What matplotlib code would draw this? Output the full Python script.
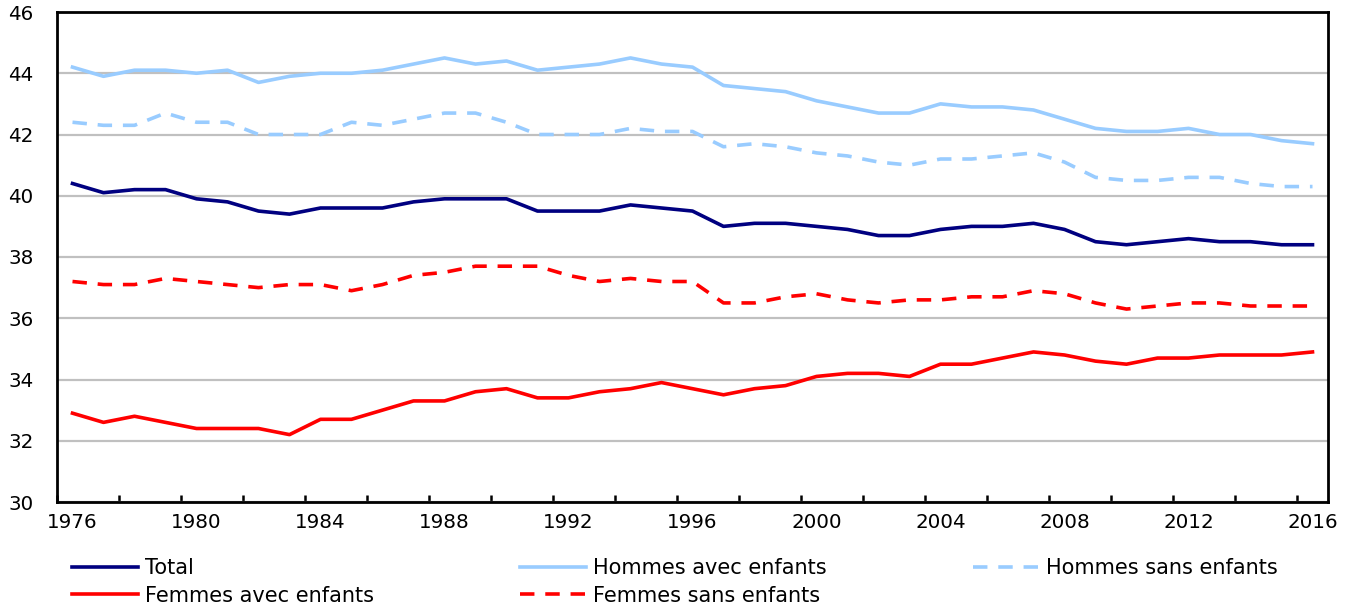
import numpy as np
import matplotlib
matplotlib.use("Agg")
import matplotlib.pyplot as plt
from matplotlib.ticker import FixedLocator, NullFormatter

years = list(range(1976, 2017))

total = [40.4, 40.1, 40.2, 40.2, 39.9, 39.8, 39.5, 39.4, 39.6, 39.6,
         39.6, 39.8, 39.9, 39.9, 39.9, 39.5, 39.5, 39.5, 39.7, 39.6,
         39.5, 39.0, 39.1, 39.1, 39.0, 38.9, 38.7, 38.7, 38.9, 39.0,
         39.0, 39.1, 38.9, 38.5, 38.4, 38.5, 38.6, 38.5, 38.5, 38.4,
         38.4]
hommes_avec = [44.2, 43.9, 44.1, 44.1, 44.0, 44.1, 43.7, 43.9, 44.0, 44.0,
               44.1, 44.3, 44.5, 44.3, 44.4, 44.1, 44.2, 44.3, 44.5, 44.3,
               44.2, 43.6, 43.5, 43.4, 43.1, 42.9, 42.7, 42.7, 43.0, 42.9,
               42.9, 42.8, 42.5, 42.2, 42.1, 42.1, 42.2, 42.0, 42.0, 41.8,
               41.7]
hommes_sans = [42.4, 42.3, 42.3, 42.7, 42.4, 42.4, 42.0, 42.0, 42.0, 42.4,
               42.3, 42.5, 42.7, 42.7, 42.4, 42.0, 42.0, 42.0, 42.2, 42.1,
               42.1, 41.6, 41.7, 41.6, 41.4, 41.3, 41.1, 41.0, 41.2, 41.2,
               41.3, 41.4, 41.1, 40.6, 40.5, 40.5, 40.6, 40.6, 40.4, 40.3,
               40.3]
femmes_avec = [32.9, 32.6, 32.8, 32.6, 32.4, 32.4, 32.4, 32.2, 32.7, 32.7,
               33.0, 33.3, 33.3, 33.6, 33.7, 33.4, 33.4, 33.6, 33.7, 33.9,
               33.7, 33.5, 33.7, 33.8, 34.1, 34.2, 34.2, 34.1, 34.5, 34.5,
               34.7, 34.9, 34.8, 34.6, 34.5, 34.7, 34.7, 34.8, 34.8, 34.8,
               34.9]
femmes_sans = [37.2, 37.1, 37.1, 37.3, 37.2, 37.1, 37.0, 37.1, 37.1, 36.9,
               37.1, 37.4, 37.5, 37.7, 37.7, 37.7, 37.4, 37.2, 37.3, 37.2,
               37.2, 36.5, 36.5, 36.7, 36.8, 36.6, 36.5, 36.6, 36.6, 36.7,
               36.7, 36.9, 36.8, 36.5, 36.3, 36.4, 36.5, 36.5, 36.4, 36.4,
               36.4]

NAVY = "#000080"
LIGHT_BLUE = "#99CCFF"
RED = "#FF0000"
LW = 2.6
DASH = (4, 3)

plt.rcParams.update({
    "font.family": ["Verdana", "DejaVu Sans"],
    "font.size": 14.3,
})

fig = plt.figure(figsize=(13.52, 6.07), dpi=100)
ax = fig.add_axes([57 / 1352, 1 - 502 / 607, (1328 - 57) / 1352, (502 - 12) / 607])

ax.plot(years, total, color=NAVY, lw=LW, label="Total")
ax.plot(years, femmes_avec, color=RED, lw=LW, label="Femmes avec enfants")
ax.plot(years, hommes_avec, color=LIGHT_BLUE, lw=LW, label="Hommes avec enfants")
ax.plot(years, femmes_sans, color=RED, lw=LW, dashes=DASH, label="Femmes sans enfants")
ax.plot(years, hommes_sans, color=LIGHT_BLUE, lw=LW, dashes=DASH, label="Hommes sans enfants")

ax.set_xlim(years[0] - 0.5, years[-1] + 0.5)
ax.set_ylim(30, 46)
ax.set_yticks(np.arange(30, 47, 2))
ax.yaxis.grid(True, color="#C0C0C0", lw=1.6)
ax.set_axisbelow(True)
ax.tick_params(axis="y", length=0, pad=17)

# tick marks sit on category boundaries, labels on category centres
ax.xaxis.set_major_locator(FixedLocator(np.arange(years[0] - 0.5, years[-1], 2)))
ax.xaxis.set_major_formatter(NullFormatter())
ax.tick_params(axis="x", which="major", direction="in", length=5, width=1.8, color="black")
label_years = years[::4]
ax.xaxis.set_minor_locator(FixedLocator(label_years))
ax.set_xticklabels([str(y) for y in label_years], minor=True)
ax.tick_params(axis="x", which="minor", length=0, pad=8)

for s in ax.spines.values():
    s.set_color("black")
    s.set_linewidth(2)

fig.legend(loc="upper left", bbox_to_anchor=(72 / 1352, 1 - 558 / 607),
           ncol=3, frameon=False, fontsize=15, handlelength=3.17, handletextpad=0.34,
           columnspacing=7.0, labelspacing=0.36, borderaxespad=0, borderpad=0)

fig.savefig("out.png", dpi=100)
